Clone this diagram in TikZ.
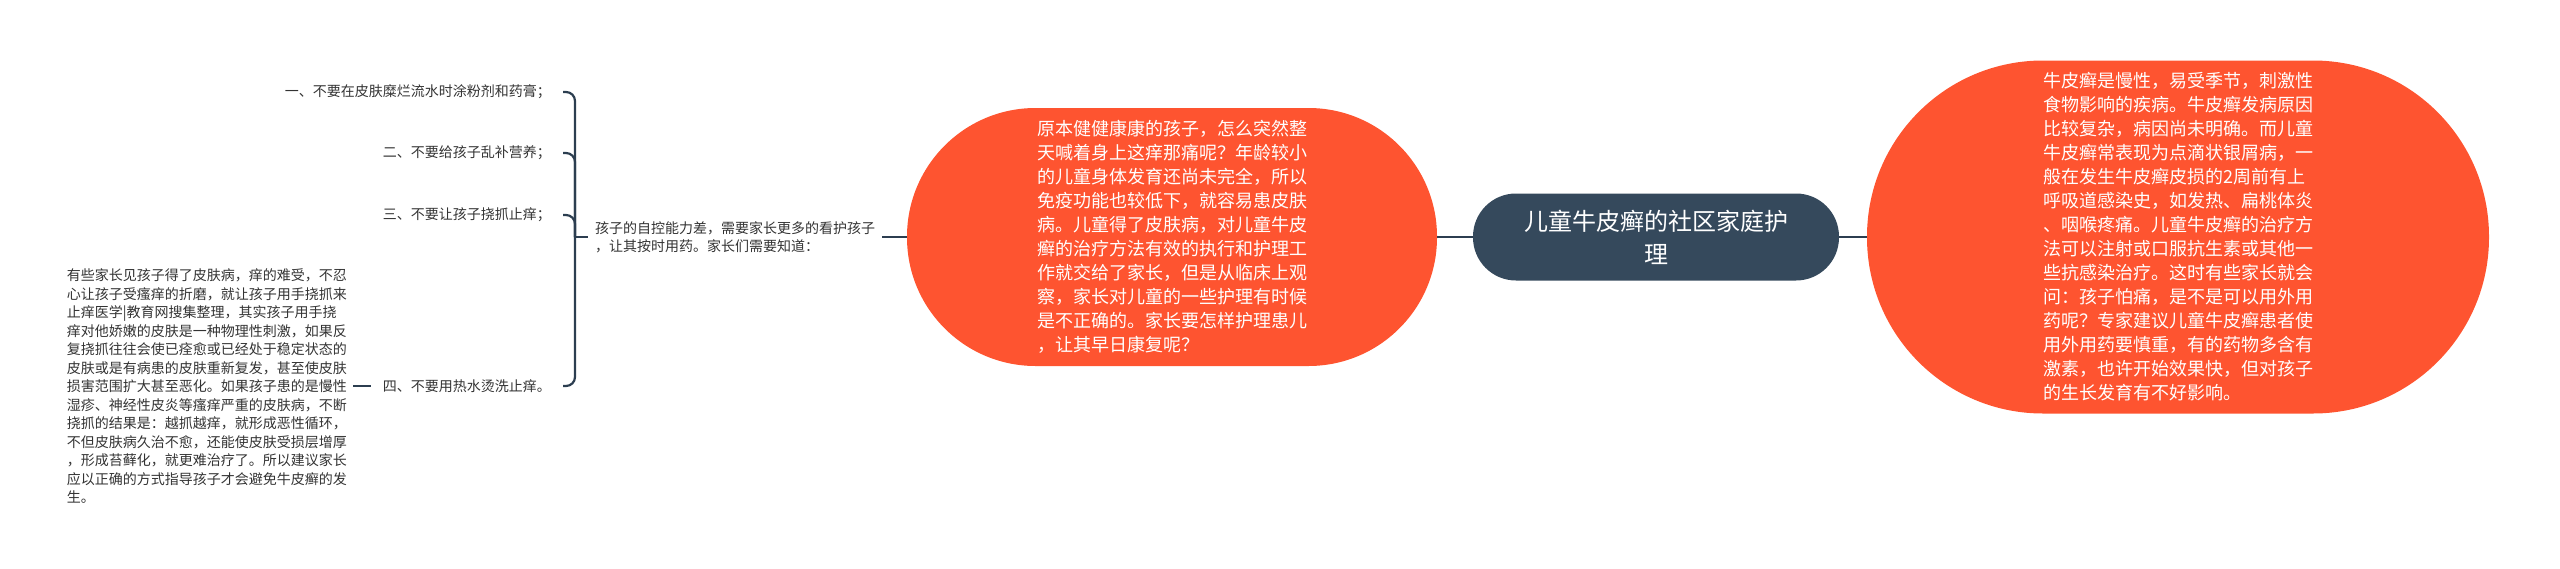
\documentclass[tikz,border=0pt]{standalone}
\usepackage{fontspec}
\setmainfont{Noto Sans CJK SC}
\definecolor{orangenode}{HTML}{FE5430}
\definecolor{darknode}{HTML}{35495C}
\definecolor{linecol}{HTML}{2C3E50}
\definecolor{txt}{HTML}{333333}
\begin{document}
\begin{tikzpicture}[x=1pt,y=-1pt,
  conn/.style={draw=linecol, line width=2.2pt},
  bubble/.style={rectangle, fill=orangenode, text=white, inner sep=0pt, align=left, font=\fontsize{18}{24}\selectfont},
  root/.style={rectangle, fill=darknode, text=white, inner sep=0pt, align=center, font=\fontsize{24}{33}\selectfont, minimum width=366pt, minimum height=87pt, rounded corners=43pt},
  leaf/.style={text=txt, font=\fontsize{14}{18.5}\selectfont, align=left, inner ysep=2pt}
]
\useasboundingbox (0,0) rectangle (2560,568);

\node[root] (c) at (1656,237) {儿童牛皮癣的社区家庭护\\理};

\node[bubble, minimum width=530pt, minimum height=258pt, rounded corners=128.5pt] (L) at (1172,237)
{原本健健康康的孩子，怎么突然整\\
天喊着身上这痒那痛呢？年龄较小\\
的儿童身体发育还尚未完全，所以\\
免疫功能也较低下，就容易患皮肤\\
病。儿童得了皮肤病，对儿童牛皮\\
癣的治疗方法有效的执行和护理工\\
作就交给了家长，但是从临床上观\\
察，家长对儿童的一些护理有时候\\
是不正确的。家长要怎样护理患儿\\
，让其早日康复呢？};

\node[bubble, minimum width=622pt, minimum height=353pt, rounded corners=176pt] (R) at (2178,237)
{牛皮癣是慢性，易受季节，刺激性\\
食物影响的疾病。牛皮癣发病原因\\
比较复杂，病因尚未明确。而儿童\\
牛皮癣常表现为点滴状银屑病，一\\
般在发生牛皮癣皮损的2周前有上\\
呼吸道感染史，如发热、扁桃体炎\\
、咽喉疼痛。儿童牛皮癣的治疗方\\
法可以注射或口服抗生素或其他一\\
些抗感染治疗。这时有些家长就会\\
问：孩子怕痛，是不是可以用外用\\
药呢？专家建议儿童牛皮癣患者使\\
用外用药要慎重，有的药物多含有\\
激素，也许开始效果快，但对孩子\\
的生长发育有不好影响。};

\node[leaf, font=\fontsize{14}{18}\selectfont, inner xsep=7pt] (P) at (735,237)
{孩子的自控能力差，需要家长更多的看护孩子\\，让其按时用药。家长们需要知道：};

\node[leaf, inner xsep=12pt, anchor=east] (c1) at (563,92) {一、不要在皮肤糜烂流水时涂粉剂和药膏；};
\node[leaf, inner xsep=12pt, anchor=east] (c2) at (563,153) {二、不要给孩子乱补营养；};
\node[leaf, inner xsep=12pt, anchor=east] (c3) at (563,215) {三、不要让孩子挠抓止痒；};
\node[leaf, inner xsep=12pt, anchor=east] (c4) at (563,386) {四、不要用热水烫洗止痒。};

\node[leaf, inner xsep=6pt, anchor=east] (d) at (353,386)
{有些家长见孩子得了皮肤病，痒的难受，不忍\\
心让孩子受瘙痒的折磨，就让孩子用手挠抓来\\
止痒医学|教育网搜集整理，其实孩子用手挠\\
痒对他娇嫩的皮肤是一种物理性刺激，如果反\\
复挠抓往往会使已痊愈或已经处于稳定状态的\\
皮肤或是有病患的皮肤重新复发，甚至使皮肤\\
损害范围扩大甚至恶化。如果孩子患的是慢性\\
湿疹、神经性皮炎等瘙痒严重的皮肤病，不断\\
挠抓的结果是：越抓越痒，就形成恶性循环，\\
不但皮肤病久治不愈，还能使皮肤受损层增厚\\
，形成苔藓化，就更难治疗了。所以建议家长\\
应以正确的方式指导孩子才会避免牛皮癣的发\\
生。};

\coordinate (j) at (575,237);

\draw[conn] (c.west) -- (L.east);
\draw[conn] (c.east) -- (R.west);
\draw[conn] (L.west) -- (P.east);
\draw[conn] (P.west) -- (j);
\draw[conn, rounded corners=9pt] (j) |- (c1.east);
\draw[conn, rounded corners=9pt] (j) |- (c2.east);
\draw[conn, rounded corners=9pt] (j) |- (c3.east);
\draw[conn, rounded corners=9pt] (j) |- (c4.east);
\draw[conn] (c4.west) -- (d.east);
\end{tikzpicture}
\end{document}
